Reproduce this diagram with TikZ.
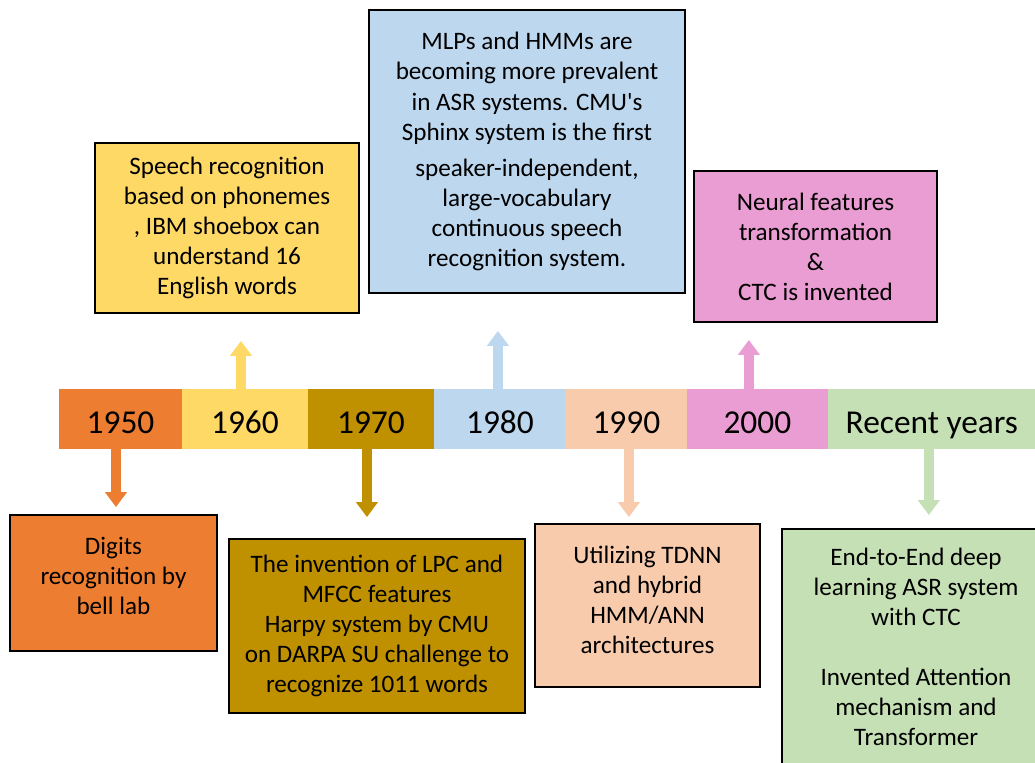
\documentclass[tikz,border=0pt]{standalone}
\usepackage{fontspec}
\setmainfont{Carlito}
\usetikzlibrary{arrows.meta, positioning}

\definecolor{c1950}{HTML}{ED7D31}
\definecolor{c1960}{HTML}{FFD966}
\definecolor{c1970}{HTML}{BF9000}
\definecolor{c1980}{HTML}{BDD7EE}
\definecolor{c1990}{HTML}{F8CBAD}
\definecolor{c2000}{HTML}{EA9DD2}
\definecolor{crecent}{HTML}{C5E0B4}

\begin{document}
\begin{tikzpicture}[x=0.02cm, y=-0.02cm,
	year/.style={inner sep=0pt, outer sep=0pt, minimum height=1.2cm, text height=17pt, text depth=0pt, font=\fontsize{19}{23}\selectfont},
	event/.style={draw=black, line width=1.1pt, inner sep=0pt, align=center, font=\fontsize{14.3}{17.1}\selectfont},
	pointer/.style={line width=5.7pt, -{Triangle[length=8.5pt, width=12pt]}}]
				\useasboundingbox (0,0) rectangle (1035,762);
				\clip (0,0) rectangle (1035,762);

				% timeline
				\node[year, fill=c1950, minimum width=2.46cm, anchor=north west] (y1950) at (59,389) {1950};
				\node[year, fill=c1960, minimum width=2.52cm, right=0pt of y1950] (y1960) {1960};
				\node[year, fill=c1970, minimum width=2.52cm, right=0pt of y1960] (y1970) {1970};
				\node[year, fill=c1980, minimum width=2.64cm, right=0pt of y1970] (y1980) {1980};
				\node[year, fill=c1990, minimum width=2.42cm, right=0pt of y1980] (y1990) {1990};
				\node[year, fill=c2000, minimum width=2.82cm, right=0pt of y1990] (y2000) {2000};
				\node[year, fill=crecent, minimum width=4.16cm, right=0pt of y2000] (yrecent) {Recent years};

				% events above
				\node[event, fill=c1960, minimum width=5.28cm, minimum height=3.4cm] (e1960) at (227,228)
				{Speech recognition\\based on phonemes\\, IBM shoebox can\\understand 16\\English words};
				\node[event, fill=c1980, minimum width=6.32cm, minimum height=5.66cm] (e1980) at (527,151.5)
				{MLPs and HMMs are\\becoming more prevalent\\in ASR systems. CMU\textquotesingle s\\Sphinx system is the first\\[3.4pt]speaker-independent,\\large-vocabulary\\continuous speech\\recognition system.};
				\node[event, fill=c2000, minimum width=4.86cm, minimum height=3.02cm] (e2000) at (815.5,246.5)
				{Neural features\\transformation\\\&\\CTC is invented};

				% events below
				\node[event, fill=c1950, minimum width=4.14cm, minimum height=2.72cm] (e1950) at (113.5,583)
				{Digits\\recognition by\\bell lab\\[-9.1pt]\mbox{}};
				\node[event, fill=c1970, minimum width=5.92cm, minimum height=3.48cm] (e1970) at (377,626)
				{The invention of LPC and\\MFCC features\\Harpy system by CMU\\on DARPA SU challenge to\\recognize 1011 words};
				\node[event, fill=c1990, minimum width=4.5cm, minimum height=3.26cm] (e1990) at (647.5,605.5)
				{Utilizing TDNN\\and hybrid\\HMM/ANN\\architectures\\[-10.3pt]\mbox{}};
				\node[event, fill=crecent, minimum width=5.36cm, minimum height=4.7cm] (erecent) at (916,646.5)
				{End-to-End deep\\learning ASR system\\with CTC\\[17.1pt]Invented Attention\\mechanism and\\Transformer};

				\draw[pointer, c1950, shorten >=0.14cm, transform canvas={xshift=-0.09cm}] (y1950.south) -- (y1950.south |- e1950.north);
				\draw[pointer, c1960, shorten >=0.54cm, transform canvas={xshift=-0.08cm}] (y1960.north) -- (y1960.north |- e1960.south);
				\draw[pointer, c1970, shorten >=0.42cm, transform canvas={xshift=-0.08cm}] (y1970.south) -- (y1970.south |- e1970.north);
				\draw[pointer, c1980, shorten >=0.74cm, transform canvas={xshift=-0.04cm}] (y1980.north) -- (y1980.north |- e1980.south);
				\draw[pointer, c1990, shorten >=0.12cm, transform canvas={xshift=0.05cm}] (y1990.south) -- (y1990.south |- e1990.north);
				\draw[pointer, c2000, shorten >=0.34cm, transform canvas={xshift=-0.17cm}] (y2000.north) -- (y2000.north |- e2000.south);
				\draw[pointer, crecent, shorten >=0.26cm, transform canvas={xshift=-0.06cm}] (yrecent.south) -- (yrecent.south |- erecent.north);
\end{tikzpicture}
\end{document}
